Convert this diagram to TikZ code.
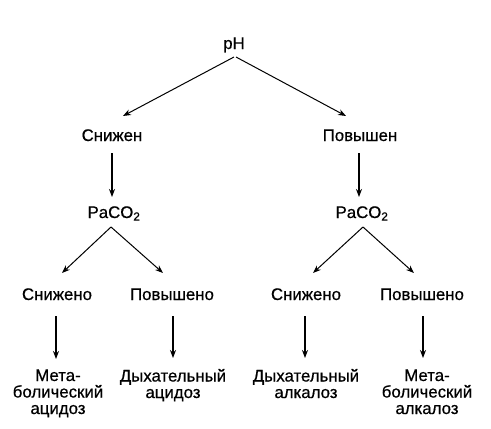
\documentclass[tikz,border=0pt]{standalone}
\usepackage{fontspec}
\setmainfont[FakeBold=0.6]{Liberation Sans}
\usetikzlibrary{arrows.meta,calc}
\begin{document}
\begin{tikzpicture}[x=1pt,y=-1pt,
  lbl/.style={inner sep=0pt,anchor=base,align=center,font=\fontsize{16.8}{16.5}\selectfont},
  arr/.style={-{Stealth[length=8pt,width=6pt]},line width=1pt},
  varr/.style={-{Stealth[length=8pt,width=6pt]},line width=1.4pt}]
\useasboundingbox (0,0) rectangle (491,429);
\fill[white] (0,0) rectangle (491,429);
\node[lbl] (ph) at (234,49) {pH};
\node[lbl] (sn) at (112,141) {Снижен};
\node[lbl] (pv) at (360,141) {Повышен};
\node[lbl] (pa1) at (114,218) {PaCO\textsubscript{2}};
\node[lbl] (pa2) at (362,218) {PaCO\textsubscript{2}};
\node[lbl] (s1) at (57,300) {Снижено};
\node[lbl] (p1) at (172,300) {Повышено};
\node[lbl] (s2) at (306,300) {Снижено};
\node[lbl] (p2) at (422,300) {Повышено};
\node[lbl] (ma) at (58,414) {Мета-\\болический\\ацидоз};
\node[lbl] (da) at (173,398) {Дыхательный\\ацидоз};
\node[lbl] (dl) at (306,398) {Дыхательный\\алкалоз};
\node[lbl] (ml) at (427,414) {Мета-\\болический\\алкалоз};
\draw[arr] ($(ph.base)+(0,8)$) -- ($(sn.base)+(11,-25)$);
\draw[arr] ($(ph.base)+(2,8)$) -- ($(pv.base)+(-14,-25)$);
\draw[varr] ($(sn.base)+(0,12)$) -- ($(pa1.base)+(-2,-21)$);
\draw[varr] ($(pv.base)+(-1,12)$) -- ($(pa2.base)+(-3,-21)$);
\draw[arr] ($(pa1.base)+(-3,9)$) -- ($(s1.base)+(5,-27)$);
\draw[arr] ($(pa1.base)+(-3,9)$) -- ($(p1.base)+(-9,-27)$);
\draw[arr] ($(pa2.base)+(1,9)$) -- ($(s2.base)+(7,-27)$);
\draw[arr] ($(pa2.base)+(1,9)$) -- ($(p2.base)+(-8,-27)$);
\draw[varr] ($(s1.base)+(-1,16)$) -- ($(ma.base)+(-2,-55)$);
\draw[varr] ($(p1.base)+(1,16)$) -- ($(da.base)+(0,-40)$);
\draw[varr] ($(s2.base)+(-1,16)$) -- ($(dl.base)+(-1,-40)$);
\draw[varr] ($(p2.base)+(1,16)$) -- ($(ml.base)+(-4,-56)$);
\end{tikzpicture}
\end{document}
